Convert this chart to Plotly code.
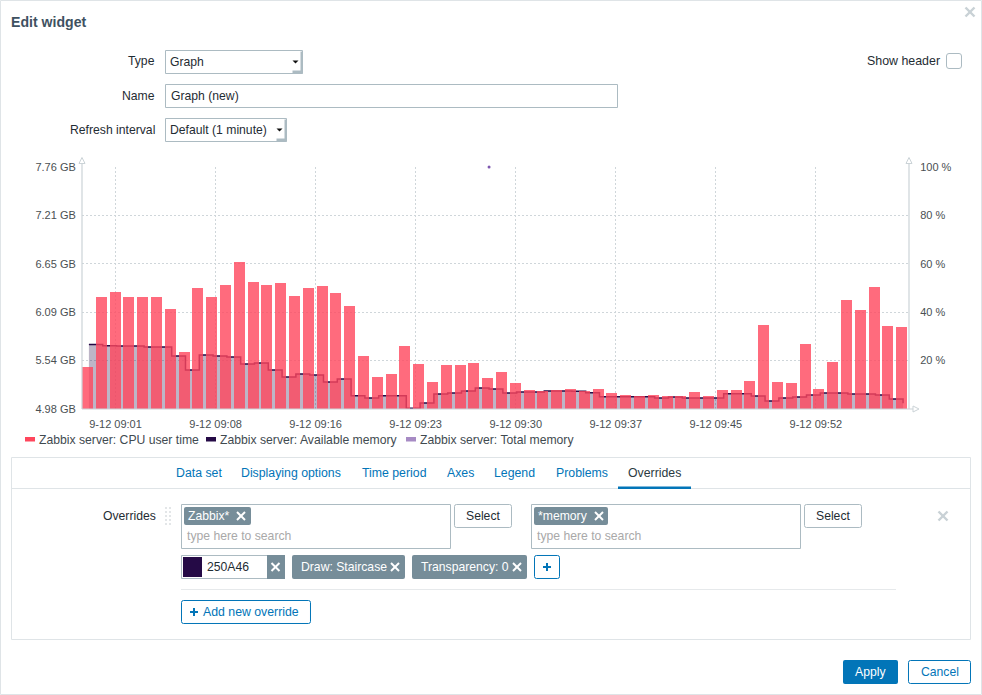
import plotly.graph_objects as go

W, H = 982, 695
FONT = "Liberation Sans"
BLUE = "#0275B8"
TAG = "#768D99"
BORDER = "#ACBBC2"
LIGHT = "#DFE4E7"
INK = "#1F2C33"
AXIS = "#CBD3D7"
GRID = "#CFD6DA"
BASE = 12.2

# ---- data ----
minutes = list(range(60))
cpu_user_time = [17.4, 46.3, 48.4, 46.3, 46.3, 46.3, 41.4, 23.6, 50.0, 46.3,
                 51.3, 60.8, 52.5, 51.3, 52.1, 46.7, 50.0, 50.9, 48.0, 42.6,
                 21.9, 13.2, 14.5, 26.1, 18.6, 11.2, 18.2, 18.2, 19.0, 12.8,
                 15.3, 10.8, 7.9, 7.4, 7.9, 8.3, 7.4, 8.3, 6.6, 5.8,
                 5.4, 5.8, 5.4, 5.4, 7.0, 5.4, 7.9, 7.9, 11.6, 34.8,
                 11.2, 10.8, 26.9, 8.3, 19.4, 45.1, 41.0, 50.5, 34.3, 33.9]
memory_minutes = [m + 0.1 for m in minutes]
available_memory = [5.720, 5.708, 5.705, 5.705, 5.693, 5.693, 5.590, 5.429, 5.601, 5.590,
                    5.578, 5.498, 5.509, 5.429, 5.348, 5.383, 5.371, 5.291, 5.325, 5.133,
                    5.107, 5.133, 5.133, 4.988, 5.049, 5.153, 5.164, 5.187, 5.222, 5.210,
                    5.164, 5.176, 5.176, 5.187, 5.187, 5.183, 5.168, 5.122, 5.122, 5.122,
                    5.122, 5.107, 5.118, 5.107, 5.107, 5.107, 5.156, 5.156, 5.130, 5.072,
                    5.107, 5.118, 5.141, 5.164, 5.164, 5.153, 5.153, 5.141, 5.095, 5.045]
total_memory_minutes = [29.1]
total_memory = [7.76]
time_ticks = [2.03, 9.28, 16.53, 23.78, 31.03, 38.28, 45.53, 52.78]
time_labels = ["9-12 09:01", "9-12 09:08", "9-12 09:16", "9-12 09:23",
               "9-12 09:30", "9-12 09:37", "9-12 09:45", "9-12 09:52"]
gb_ticks = [4.98, 5.536, 6.092, 6.648, 7.204, 7.76]
gb_labels = ["4.98 GB", "5.54 GB", "6.09 GB", "6.65 GB", "7.21 GB", "7.76 GB"]
pct_ticks = [20, 40, 60, 80, 100]
pct_labels = ["20 %", "40 %", "60 %", "80 %", "100 %"]
legend_names = ["Zabbix server: CPU user time", "Zabbix server: Available memory",
                "Zabbix server: Total memory"]
legend_colors = ["#FF465C", "#250A46", "#A78BC4"]

fig = go.Figure()
fig.add_trace(go.Scatter(x=memory_minutes, y=available_memory, yaxis="y", mode="lines",
                         name=legend_names[1], line=dict(color="#250A46", width=1.5, shape="hv"),
                         fill="tozeroy", fillcolor="rgba(37,10,70,0.3)"))
fig.add_trace(go.Scatter(x=total_memory_minutes, y=total_memory, yaxis="y", mode="markers",
                         name=legend_names[2], marker=dict(color="#7E57B0", size=3), cliponaxis=False))
fig.add_trace(go.Bar(x=minutes, y=cpu_user_time, yaxis="y2", width=0.8, name=legend_names[0],
                     marker=dict(color="rgba(255,70,92,0.8)", line=dict(width=0))))

shapes, notes = [], []
def px(x): return x / W
def py(y): return 1 - y / H

def rect(x0, y0, x1, y1, fill=None, line=None, lw=1, r=0):
    style = dict(fillcolor=fill or "rgba(0,0,0,0)",
                 line=dict(color=line or "rgba(0,0,0,0)", width=lw if line else 0))
    if r:
        c = lambda a, b: f"{px(a):.5f},{py(b):.5f}"
        d = (f"M {c(x0 + r, y0)} L {c(x1 - r, y0)} Q {c(x1, y0)} {c(x1, y0 + r)} "
             f"L {c(x1, y1 - r)} Q {c(x1, y1)} {c(x1 - r, y1)} "
             f"L {c(x0 + r, y1)} Q {c(x0, y1)} {c(x0, y1 - r)} "
             f"L {c(x0, y0 + r)} Q {c(x0, y0)} {c(x0 + r, y0)} Z")
        shapes.append(dict(type="path", xref="paper", yref="paper", path=d, **style))
    else:
        shapes.append(dict(type="rect", xref="paper", yref="paper", x0=px(x0), x1=px(x1),
                           y0=py(y0), y1=py(y1), **style))

def seg(x0, y0, x1, y1, color, lw=1, dash=None):
    shapes.append(dict(type="line", xref="paper", yref="paper", x0=px(x0), x1=px(x1), y0=py(y0), y1=py(y1),
                       line=dict(color=color, width=lw, dash=dash or "solid")))

def poly(points, fill=None, line=None, lw=1):
    d = "M " + " L ".join(f"{px(a):.5f},{py(b):.5f}" for a, b in points) + " Z"
    shapes.append(dict(type="path", xref="paper", yref="paper", path=d,
                       fillcolor=fill or "rgba(0,0,0,0)",
                       line=dict(color=line or "rgba(0,0,0,0)", width=lw if line else 0)))

def text(x, y, s, size=BASE, color=INK, anchor="left", bold=False):
    notes.append(dict(xref="paper", yref="paper", x=px(x), y=py(y), text=f"<b>{s}</b>" if bold else s,
                      showarrow=False, xanchor=anchor, yanchor="middle", align=anchor,
                      font=dict(family=FONT, size=size, color=color), borderpad=0, borderwidth=0))

def cross(cx, cy, r=4, color="white", lw=2):
    seg(cx - r, cy - r, cx + r, cy + r, color, lw)
    seg(cx - r, cy + r, cx + r, cy - r, color, lw)

def plus(cx, cy, r=4, color=BLUE, lw=2):
    seg(cx - r, cy, cx + r, cy, color, lw)
    seg(cx, cy - r, cx, cy + r, color, lw)

def select(x0, y0, x1, y1, label):
    rect(x0, y0, x1, y1, fill="white", line=BORDER)
    rect(x1 - 2, y0 + 1, x1, y1, fill="#ACBBC2")
    rect(x1 - 10, y1 - 3, x1, y1, fill="#ACBBC2")
    poly([(x1 - 10, y0 + 10), (x1 - 4, y0 + 10), (x1 - 7, y0 + 13)], fill="#111111")
    text(x0 + 4.5, (y0 + y1) / 2, label)

def tag(x0, y0, x1, y1, label, tx, xx):
    rect(x0, y0, x1, y1, fill=TAG, r=2)
    text(tx, (y0 + y1) / 2, label, color="white")
    cross(xx, (y0 + y1) / 2)

# dialog frame
rect(0.5, 0.5, 981.5, 694.5, fill=None, line=LIGHT)
cross(970, 12, r=4.5, color="#C9D1D6", lw=2.4)
text(11, 22, "Edit widget", size=14.1, color="#3E5161", bold=True)

# form rows
text(155, 61.5, "Type", anchor="right")
select(165.5, 50.5, 302.5, 73.5, "Graph")
text(155, 96, "Name", anchor="right")
rect(165.5, 84.5, 617.5, 107.5, fill="white", line=BORDER)
text(171, 96, "Graph (new)")
text(155, 130, "Refresh interval", anchor="right")
select(165.5, 118.5, 286.5, 141.5, "Default (1 minute)")
text(940, 61.5, "Show header", anchor="right", size=12.4)
rect(946.5, 53.5, 961.5, 68.5, fill="white", line=BORDER, r=2.5)

# chart axis lines and arrow heads
seg(82, 164, 82, 409, AXIS, 1.2)
seg(909, 164, 909, 409, AXIS, 1.2)
seg(82, 409, 913, 409, AXIS, 1.2)
poly([(82, 157.5), (79, 163.5), (85, 163.5)], fill="white", line=AXIS)
poly([(909, 157.5), (906, 163.5), (912, 163.5)], fill="white", line=AXIS)
poly([(919, 409), (913, 406), (913, 412)], fill="white", line=AXIS)

# legend
lx = [25, 206, 406]
tx = [39, 220, 420]
for a, b, name, col in zip(lx, tx, legend_names, legend_colors):
    rect(a, 437, a + 10, 441.5, fill=col)
    text(b, 440, name, size=12.2, color="#3F4A50")

# tab panel
rect(11.5, 457.5, 970.5, 639.5, fill=None, line=LIGHT)
seg(12, 488.5, 970, 488.5, LIGHT, 1)
for x, s in [(176, "Data set"), (241, "Displaying options"), (362, "Time period"),
             (447, "Axes"), (494, "Legend"), (556, "Problems")]:
    text(x, 473, s, color=BLUE, size=12.3)
text(628, 473, "Overrides", color="#2B3A42", size=12.3)
rect(618, 486.5, 691, 489, fill=BLUE)

# override row
text(156, 516, "Overrides", anchor="right")
for y in (508, 512, 516, 520, 524):
    for x in (166, 170):
        rect(x - 1, y - 1, x + 1, y + 1, fill="#E3E6E8")
for x0, x1, t0, t1, tx0, xx, lab, bx in [(181.5, 450.5, 184, 251, 188, 241, "Zabbix*", 454.5),
                                          (531.5, 800.5, 534, 608, 538, 599, "*memory", 804.5)]:
    rect(x0, 504.5, x1, 548.5, fill="white", line=BORDER)
    tag(t0, 507, t1, 525, lab, tx0, xx)
    text(x0 + 5.5, 536, "type here to search", color="#A9A9A9")
    rect(bx, 504.5, bx + 57, 527.5, fill="white", line=BORDER, r=2)
    text(bx + 28.5, 516, "Select", anchor="center")
cross(943, 516, r=4.5, color="#C9D1D6", lw=2.4)

rect(181.5, 555.5, 284.5, 578.5, fill="white", line=BORDER)
rect(183, 557, 202, 577, fill="#250A46")
text(207, 567, "250A46")
rect(267, 555, 285, 579, fill=TAG)
cross(275.5, 567)
tag(292, 555, 405, 579, "Draw: Staircase", 301, 395)
tag(412, 555, 527, 579, "Transparency: 0", 421, 517)
rect(534.5, 555.5, 559.5, 578.5, fill="white", line=BLUE, r=2)
plus(547, 567)
seg(181, 589.5, 896, 589.5, "#E6E9EB", 1)
rect(181.5, 600.5, 310.5, 623.5, fill="white", line=BLUE, r=2)
plus(194, 612)
text(203, 612, "Add new override", color=BLUE, size=12.3)

# footer buttons
rect(843, 660, 898, 684, fill=BLUE, r=2)
text(870.5, 672, "Apply", color="white", anchor="center")
rect(908.5, 660.5, 970.5, 683.5, fill="white", line=BLUE, r=2)
text(939.5, 672, "Cancel", color=BLUE, anchor="center")

tick_font = dict(family=FONT, size=11, color="#4A4F52")
fig.update_layout(
    template="none",
    width=W, height=H, margin=dict(l=0, r=0, t=0, b=0, pad=0, autoexpand=False),
    paper_bgcolor="white", plot_bgcolor="white", showlegend=False, bargap=0,
    font=dict(family=FONT), shapes=shapes, annotations=notes,
    xaxis=dict(domain=[px(82), px(909)], range=[-0.4, 59.53], tickmode="array", tickvals=time_ticks,
               ticktext=time_labels, tickfont=tick_font, showgrid=True, gridcolor=GRID, griddash="2px,2px",
               gridwidth=1, zeroline=False, showline=False, ticks="outside", ticklen=5,
               tickcolor="rgba(0,0,0,0)", tickangle=0, automargin=False),
    yaxis=dict(domain=[py(409), py(167)], range=[4.98, 7.76], tickmode="array", tickvals=gb_ticks,
               ticktext=gb_labels, tickfont=tick_font, showgrid=True, gridcolor=GRID, griddash="2px,2px",
               gridwidth=1, zeroline=False, showline=False, ticks="outside", ticklen=3,
               tickcolor="rgba(0,0,0,0)", automargin=False),
    yaxis2=dict(overlaying="y", side="right", anchor="x", range=[0, 100], tickmode="array",
                tickvals=pct_ticks, ticktext=pct_labels, tickfont=tick_font, showgrid=False,
                zeroline=False, showline=False, ticks="outside", ticklen=8, tickcolor="rgba(0,0,0,0)",
                automargin=False),
)
fig.write_html("out.html", config=dict(displayModeBar=False),
               post_script="document.body.style.margin='0';document.body.style.overflow='hidden';")
